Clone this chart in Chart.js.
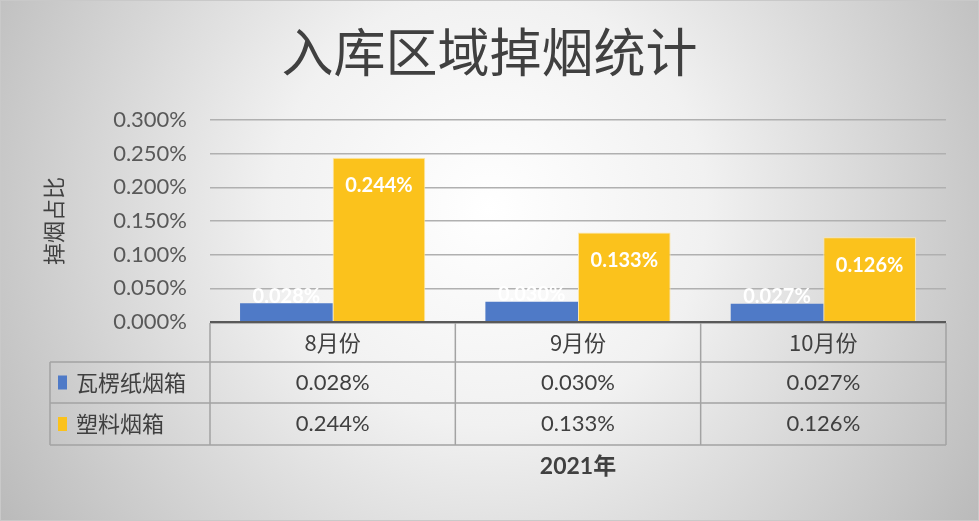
<!DOCTYPE html>
<html>
<head>
<meta charset="utf-8">
<script src="https://cdn.jsdelivr.net/npm/chart.js@4"></script>
<style>
  html, body { margin: 0; padding: 0; background: #fff; }
  #wrap { width: 979px; height: 521px; }
</style>
</head>
<body>
<div id="wrap"><canvas id="dropChart" width="979" height="521"></canvas></div>
<script>
// 入库区域掉烟统计 — values in percent
const chartTitle = '入库区域掉烟统计';
const months = ['8月份', '9月份', '10月份'];
const seriesNames = ['瓦楞纸烟箱', '塑料烟箱'];
const corrugated = [0.028, 0.030, 0.027];
const plastic = [0.244, 0.133, 0.126];
const yTicks = [0, 0.05, 0.1, 0.15, 0.2, 0.25, 0.3];

const colors = ['#4f7ac7', '#fbc21c'];
const textColor = '#404040';
const numFont = "Lato, 'Noto Sans CJK SC', sans-serif";
const cjkFont = "'Noto Sans CJK SC', Lato, sans-serif";

const fmt = v => v.toFixed(3) + '%';

// gradient background like the office chart style + title centred on the page
const bgPlugin = {
    id: 'bg',
    beforeDraw(chart) {
        const c = chart.ctx;
        const w = chart.width, h = chart.height;
        c.save();
        const g = c.createRadialGradient(w / 2, h * 0.4, 0, w / 2, h * 0.4, 620);
        g.addColorStop(0, '#ffffff');
        g.addColorStop(0.35, '#f1f1f1');
        g.addColorStop(1, '#b4b4b4');
        c.fillStyle = g;
        c.fillRect(0, 0, w, h);
        c.strokeStyle = '#c9c9c9';
        c.lineWidth = 1;
        c.strokeRect(0.5, 0.5, w - 1, h - 1);

        c.fillStyle = textColor;
        c.textAlign = 'center';
        c.textBaseline = 'middle';
        c.font = '52px ' + cjkFont;
        c.fillText(chartTitle, w / 2, 52);
        c.restore();
    }
};

// value labels on bars
const labelPlugin = {
    id: 'barLabels',
    afterDatasetsDraw(chart) {
        const c = chart.ctx;
        c.save();
        c.fillStyle = '#ffffff';
        c.textAlign = 'center';
        c.textBaseline = 'middle';
        c.font = 'bold 20px ' + numFont;
        chart.data.datasets.forEach((ds, di) => {
            chart.getDatasetMeta(di).data.forEach((bar, i) => {
                const y = di === 0 ? bar.y - 7 : bar.y + 28;
                c.fillText(fmt(ds.data[i]), bar.x, y);
            });
        });
        c.restore();
    }
};

// data table under the plot
const tablePlugin = {
    id: 'dataTable',
    afterDraw(chart) {
        const c = chart.ctx;
        const area = chart.chartArea;
        const xs = chart.scales.x;
        const colW = (area.right - area.left) / months.length;
        const legendLeft = 50;
        const rows = [area.bottom + 1, 362, 403, 445];
        c.save();

        // grid lines of the table
        c.strokeStyle = '#a3a3a3';
        c.lineWidth = 1.5;
        c.beginPath();
        c.moveTo(area.left, rows[0]); c.lineTo(area.right, rows[0]);
        for (let r = 1; r < rows.length; r++) {
            c.moveTo(legendLeft, rows[r]); c.lineTo(area.right, rows[r]);
        }
        for (let i = 0; i <= months.length; i++) {
            const x = area.left + i * colW;
            c.moveTo(x, rows[0]); c.lineTo(x, rows[3]);
        }
        c.moveTo(legendLeft, rows[1]); c.lineTo(legendLeft, rows[3]);
        c.stroke();

        // axis line
        c.strokeStyle = '#595959';
        c.lineWidth = 2;
        c.beginPath();
        c.moveTo(area.left, area.bottom); c.lineTo(area.right, area.bottom);
        c.stroke();

        c.textBaseline = 'middle';
        c.textAlign = 'center';
        c.fillStyle = textColor;
        c.font = '22px ' + cjkFont;
        months.forEach((m, i) => {
            c.fillText(m, xs.getPixelForValue(i), (rows[0] + rows[1]) / 2);
        });

        const rowData = [corrugated, plastic];
        rowData.forEach((vals, r) => {
            const yMid = (rows[r + 1] + rows[r + 2]) / 2;
            c.fillStyle = colors[r];
            c.fillRect(58, yMid - 7, 9, 14);
            c.fillStyle = textColor;
            c.textAlign = 'left';
            c.font = '22px ' + cjkFont;
            c.fillText(seriesNames[r], 76, yMid);
            c.textAlign = 'center';
            c.font = '22px ' + numFont;
            vals.forEach((v, i) => {
                c.fillText(fmt(v), xs.getPixelForValue(i), yMid);
            });
        });

        // x axis title
        c.font = 'bold 23px ' + numFont;
        c.textAlign = 'center';
        c.fillText('2021年', (area.left + area.right) / 2, 467);
        c.restore();
    }
};

new Chart(document.getElementById('dropChart'), {
    type: 'bar',
    data: {
        labels: months,
        datasets: [{
            label: seriesNames[0],
            data: corrugated,
            backgroundColor: colors[0],
            borderWidth: 0
        }, {
            label: seriesNames[1],
            data: plastic,
            backgroundColor: colors[1],
            borderColor: '#fde7a8',
            borderWidth: { top: 1, left: 1, right: 1, bottom: 0 }
        }]
    },
    options: {
        responsive: false,
        animation: false,
        devicePixelRatio: 1,
        categoryPercentage: 0.755,
        barPercentage: 1,
        layout: { padding: { left: 0, right: 33, top: 120, bottom: 199 } },
        plugins: {
            legend: { display: false },
            tooltip: { enabled: false },
            title: { display: false }
        },
        scales: {
            x: {
                display: false
            },
            y: {
                min: 0,
                max: 0.3,
                afterBuildTicks(scale) {
                    scale.ticks = yTicks.map(v => ({ value: v }));
                },
                afterFit(scale) { scale.width = 210; },
                border: { display: false },
                grid: { color: '#b0b0b0', lineWidth: 1.5, drawTicks: false },
                ticks: {
                    padding: 23,
                    color: '#595959',
                    font: { family: numFont, size: 22 },
                    callback: v => fmt(v)
                },
                title: {
                    display: true,
                    text: '掉烟占比',
                    color: textColor,
                    font: { family: cjkFont, size: 22, lineHeight: 1.2 },
                    padding: { top: 40, bottom: 0 }
                }
            }
        }
    },
    plugins: [bgPlugin, labelPlugin, tablePlugin]
});
</script>
</body>
</html>
